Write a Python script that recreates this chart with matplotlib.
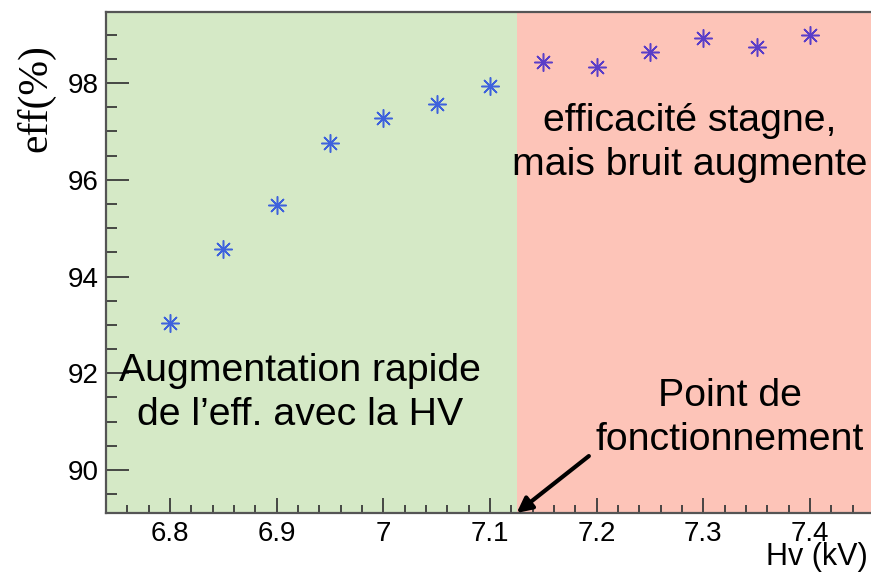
import numpy as np
import matplotlib.pyplot as plt
from matplotlib.ticker import MultipleLocator

# Efficacité en fonction de la haute tension
hv = [6.80, 6.85, 6.90, 6.95, 7.00, 7.05, 7.10, 7.15, 7.20, 7.25, 7.30, 7.35, 7.40]
eff = [93.04, 94.56, 95.48, 96.77, 97.28, 97.57, 97.94, 98.44, 98.33, 98.65, 98.93, 98.74, 99.00]

# Point de fonctionnement et bornes des axes
hv_op = 7.125
xlim = (6.74, 7.461)
ylim = (89.11, 99.47)

plt.rcParams['font.family'] = ['Liberation Sans', 'DejaVu Sans']

W, H = 871, 572


def fpos(x, y):
    # pixels (origine en haut à gauche) -> fraction de figure
    return x / W, 1 - y / H


fig = plt.figure(figsize=(W / 100, H / 100), dpi=100)
ax = fig.add_axes([106 / W, 1 - 513 / H, (875 - 106) / W, (513 - 12) / H])

ax.set_xlim(*xlim)
ax.set_ylim(*ylim)

# Zones de fond
ax.axvspan(xlim[0], hv_op, color='#d5e9c6', zorder=0, lw=0)
ax.axvspan(hv_op, xlim[1], color='#fdc4b8', zorder=0, lw=0)

hv_arr = np.array(hv)
eff_arr = np.array(eff)
left = hv_arr < hv_op
ax.plot(hv_arr[left], eff_arr[left], ls='none', marker=(8, 2, 0), ms=13,
        mew=1.1, color='#3e62dc', zorder=3)
ax.plot(hv_arr[~left], eff_arr[~left], ls='none', marker=(8, 2, 0), ms=13,
        mew=1.1, color='#5a3ec8', zorder=3)

# Axes style ROOT
ax.xaxis.set_major_locator(MultipleLocator(0.1))
ax.xaxis.set_minor_locator(MultipleLocator(0.02))
ax.yaxis.set_major_locator(MultipleLocator(2))
ax.yaxis.set_minor_locator(MultipleLocator(0.5))
ax.tick_params(which='both', direction='in', color='#3a3a3a', width=1.3,
               labelsize=20, top=False, right=False)
ax.tick_params(axis='y', which='major', length=16.5, pad=5)
ax.tick_params(axis='y', which='minor', length=8)
ax.tick_params(axis='x', which='major', length=11, pad=6)
ax.tick_params(axis='x', which='minor', length=5.5)
ax.xaxis.set_major_formatter(plt.FuncFormatter(lambda v, p: f'{v:g}'))
ax.yaxis.set_major_formatter(plt.FuncFormatter(lambda v, p: f'{v:g}'))
for side in ['left', 'bottom', 'top']:
    ax.spines[side].set_color('#555555')
    ax.spines[side].set_linewidth(1.6)
ax.spines['right'].set_visible(False)

ax.set_ylabel('eff(%)', family=['Liberation Serif', 'DejaVu Serif'], fontsize=30)
ax.yaxis.set_label_coords(-0.066, 0.828)
fig.text(*fpos(868, 557), 'Hv (kV)', ha='right', va='center', fontsize=22)

# Annotations
ax.text(*fpos(300, 425), 'Augmentation rapide\nde l\u2019eff. avec la HV',
        transform=fig.transFigure, ha='center', va='baseline',
        fontsize=28.3, linespacing=1.28)
ax.text(*fpos(690, 175), 'efficacité stagne,\nmais bruit augmente',
        transform=fig.transFigure, ha='center', va='baseline',
        fontsize=28.3, linespacing=1.28)
ax.text(*fpos(730, 450), 'Point de\nfonctionnement',
        transform=fig.transFigure, ha='center', va='baseline',
        fontsize=28.3, linespacing=1.28)

ax.annotate('', xy=(hv_op, ylim[0]), xytext=(52, 41), textcoords='offset points',
            arrowprops=dict(arrowstyle='-|>,head_length=0.9,head_width=0.45',
                            color='black', lw=3, shrinkA=0, shrinkB=0))

fig.savefig('out.png', dpi=100)
